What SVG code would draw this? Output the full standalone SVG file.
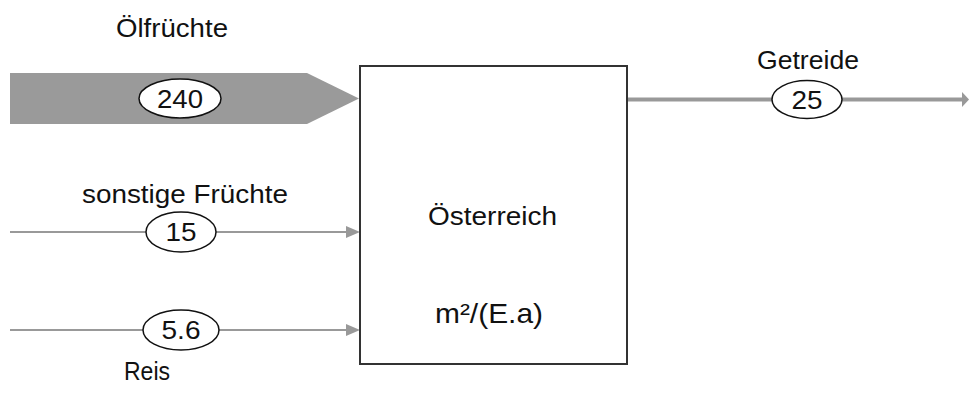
<svg xmlns="http://www.w3.org/2000/svg" width="969" height="399" viewBox="0 0 969 399">
<style>
text{font-family:"Liberation Sans",Arial,sans-serif;fill:#111}
.lbl{font-size:26px}
.unit{font-size:28px}
.num{font-size:26px;text-anchor:middle}
.oval{fill:#fff;stroke:#111;stroke-width:1.5}
.thin{stroke:#999;stroke-width:2;fill:none}
.head{fill:#999}
</style>
<rect width="969" height="399" fill="#fff"/>
<g id="connectors">
  <g id="flow-oelfruechte">
    <rect x="10" y="73" width="297" height="51" fill="#9a9a9a"/>
    <polygon points="307,73 359,98.5 307,124" fill="#9a9a9a"/>
  </g>
  <g id="flow-getreide">
    <line x1="627" y1="99.5" x2="963" y2="99.5" stroke="#999" stroke-width="4"/>
    <polygon class="head" points="962,92 969,99.5 962,107"/>
  </g>
  <g id="flow-sonstige">
    <line class="thin" x1="10" y1="232" x2="347" y2="232"/>
    <polygon class="head" points="346,226 360,232 346,238"/>
  </g>
  <g id="flow-reis">
    <line class="thin" x1="10" y1="330" x2="347" y2="330"/>
    <polygon class="head" points="346,324 360,330 346,336"/>
  </g>
</g>
<g id="node-oesterreich">
  <rect x="360" y="66" width="267" height="298" fill="#fff" stroke="#333" stroke-width="2"/>
  <text class="lbl" x="428" y="225" textLength="129" lengthAdjust="spacingAndGlyphs">Österreich</text>
  <text class="unit" x="435" y="323" textLength="108" lengthAdjust="spacingAndGlyphs">m²/(E.a)</text>
</g>
<g id="label-oelfruechte">
  <text class="lbl" x="116" y="37" textLength="112" lengthAdjust="spacingAndGlyphs">Ölfrüchte</text>
  <ellipse class="oval" cx="180" cy="98.5" rx="41" ry="19.5"/>
  <text class="num" x="180" y="108" textLength="46" lengthAdjust="spacingAndGlyphs">240</text>
</g>
<g id="label-getreide">
  <text class="lbl" x="757" y="69" textLength="102" lengthAdjust="spacingAndGlyphs">Getreide</text>
  <ellipse class="oval" cx="807" cy="99.5" rx="35" ry="19"/>
  <text class="num" x="807" y="108.5" textLength="31" lengthAdjust="spacingAndGlyphs">25</text>
</g>
<g id="label-sonstige">
  <text class="lbl" x="82" y="203" textLength="206" lengthAdjust="spacingAndGlyphs">sonstige Früchte</text>
  <ellipse class="oval" cx="181" cy="232" rx="35" ry="20"/>
  <text class="num" x="181" y="241" textLength="31" lengthAdjust="spacingAndGlyphs">15</text>
</g>
<g id="label-reis">
  <ellipse class="oval" cx="181" cy="330" rx="38" ry="20"/>
  <text class="num" x="181" y="339" textLength="39" lengthAdjust="spacingAndGlyphs">5.6</text>
  <text class="lbl" x="124" y="380" textLength="46" lengthAdjust="spacingAndGlyphs">Reis</text>
</g>
</svg>
